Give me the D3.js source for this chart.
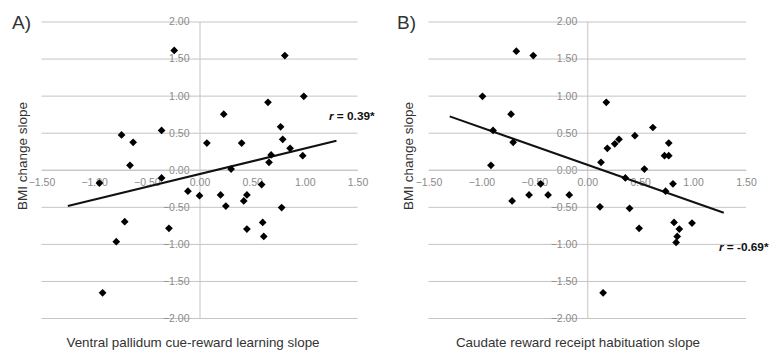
<!DOCTYPE html>
<html>
<head>
<meta charset="utf-8">
<script src="https://cdn.jsdelivr.net/npm/d3@7"></script>
<style>
  body { margin: 0; background: #fff; }
  text { font-family: "Liberation Sans", Arial, sans-serif; }
</style>
</head>
<body>
<script>
const WIDTH = 771;
const HEIGHT = 356;

// shared BMI change slope values (y) and the two predictors (x)
const tickValsX = [-1.5, -1, -0.5, 0, 0.5, 1, 1.5];
const tickValsY = [-2, -1.5, -1, -0.5, 0, 0.5, 1, 1.5, 2];

const pallidumX = [-0.24, 0.81, 0.65, 0.99, 0.23, -0.74, -0.63, -0.36, 0.07, 0.40, 0.77, 0.79, 0.86, 0.68, 0.98, 0.66, -0.66, 0.30, -0.36,
                   -0.95, -0.11, 0.00, 0.20, 0.25, 0.45, 0.42, 0.59, 0.78, -0.71, -0.29, 0.45, 0.60, 0.61, -0.79, -0.92];
const pallidumY = [1.61, 1.54, 0.91, 0.99, 0.75, 0.47, 0.37, 0.53, 0.36, 0.36, 0.58, 0.41, 0.29, 0.20, 0.19, 0.10, 0.06, 0.01, -0.11,
                   -0.18, -0.29, -0.35, -0.34, -0.49, -0.34, -0.42, -0.20, -0.51, -0.70, -0.79, -0.80, -0.71, -0.90, -0.97, -1.66];

const caudateX = [-0.67, -0.51, -0.99, -0.72, -0.89, -0.70, -0.91, 0.18, 0.19, 0.26, 0.30, 0.45, 0.62, 0.77, 0.73, 0.77, 0.13, 0.54, 0.36,
                  -0.44, 0.81, -0.55, -0.37, -0.17, -0.71, 0.74, 0.12, 0.40, 0.49, 0.82, 0.99, 0.87, 0.85, 0.84, 0.15];
const caudateY = [1.60, 1.54, 0.99, 0.75, 0.53, 0.37, 0.06, 0.91, 0.29, 0.35, 0.41, 0.46, 0.57, 0.36, 0.19, 0.19, 0.10, 0.01, -0.11,
                  -0.19, -0.19, -0.34, -0.34, -0.34, -0.42, -0.29, -0.50, -0.52, -0.79, -0.71, -0.72, -0.80, -0.90, -0.98, -1.66];

// fitted lines as drawn (endpoints)
const pallidumFitX = [-1.25, 1.30];
const pallidumFitY = [-0.49, 0.39];
const caudateFitX = [-1.30, 1.29];
const caudateFitY = [0.72, -0.58];

const panels = [
  { letter: "A)", xs: pallidumX, ys: pallidumY, fx: pallidumFitX, fy: pallidumFitY,
    xTitle: "Ventral pallidum cue-reward learning slope", r: "0.39*",
    left: 41.5, right: 357.5, titleX: 193, yTitleX: 22, letterX: 12, rX: 329, rY: 120 },
  { letter: "B)", xs: caudateX, ys: caudateY, fx: caudateFitX, fy: caudateFitY,
    xTitle: "Caudate reward receipt habituation slope", r: "-0.69*",
    left: 428.5, right: 746, titleX: 578, yTitleX: 408, letterX: 397, rX: 719, rY: 251 }
];

const svg = d3.select("body")
              .append("svg")
              .attr("width", WIDTH)
              .attr("height", HEIGHT);

const fmt = d3.format(".2f");

panels.forEach(p => {
  const x = d3.scaleLinear().domain([-1.5, 1.5]).range([p.left, p.right]);
  const y = d3.scaleLinear().domain([-2, 2]).range([318, 21.5]);
  const g = svg.append("g");

  // horizontal gridlines
  g.append("g")
   .attr("transform", `translate(${p.left},0)`)
   .call(d3.axisLeft(y).tickValues(tickValsY).tickSize(-(p.right - p.left)).tickFormat(""))
   .call(a => a.select(".domain").remove())
   .call(a => a.selectAll("line").attr("stroke", "#c4c4c4"));

  // vertical axis at x = 0, labels on its left
  g.append("g")
   .attr("transform", `translate(${x(0)},0)`)
   .call(d3.axisLeft(y).tickValues(tickValsY).tickSize(0).tickPadding(10).tickFormat(fmt))
   .call(a => a.select(".domain").attr("stroke", "#c4c4c4"))
   .call(a => a.selectAll("text").attr("fill", "#8a8a8a").style("font-size", "10.5px"));

  // horizontal axis at y = 0, labels below
  g.append("g")
   .attr("transform", `translate(0,${y(0)})`)
   .call(d3.axisBottom(x).tickValues(tickValsX).tickSize(0).tickPadding(9).tickFormat(fmt))
   .call(a => a.select(".domain").attr("stroke", "#c4c4c4"))
   .call(a => a.selectAll("text").attr("fill", "#8a8a8a").style("font-size", "10.5px"));

  // fitted line
  g.append("line")
   .attr("x1", x(p.fx[0])).attr("y1", y(p.fy[0]))
   .attr("x2", x(p.fx[1])).attr("y2", y(p.fy[1]))
   .attr("stroke", "#111")
   .attr("stroke-width", 2);

  // diamond markers
  const pts = p.xs.map((v, i) => [v, p.ys[i]]);
  g.selectAll("path.pt")
   .data(pts)
   .enter().append("path")
   .attr("class", "pt")
   .attr("d", d3.symbol(d3.symbolSquare, 30)())
   .attr("transform", d => `translate(${x(d[0])},${y(d[1])}) rotate(45)`)
   .attr("fill", "#000");

  // titles
  g.append("text")
   .attr("x", p.titleX)
   .attr("y", 347)
   .attr("text-anchor", "middle")
   .attr("fill", "#333")
   .style("font-size", "13.4px")
   .text(p.xTitle);

  g.append("text")
   .attr("transform", `translate(${p.yTitleX + 5},156) rotate(-90)`)
   .attr("text-anchor", "middle")
   .attr("fill", "#333")
   .style("font-size", "13.5px")
   .text("BMI change slope");

  g.append("text")
   .attr("x", p.letterX)
   .attr("y", 29)
   .attr("fill", "#333")
   .style("font-size", "19px")
   .text(p.letter);

  const rt = g.append("text")
              .attr("x", p.rX)
              .attr("y", p.rY)
              .attr("fill", "#111")
              .style("font-size", "11.8px")
              .style("font-weight", "bold");
  rt.append("tspan").style("font-style", "italic").text("r");
  rt.append("tspan").text(" = " + p.r);
});
</script>
</body>
</html>
